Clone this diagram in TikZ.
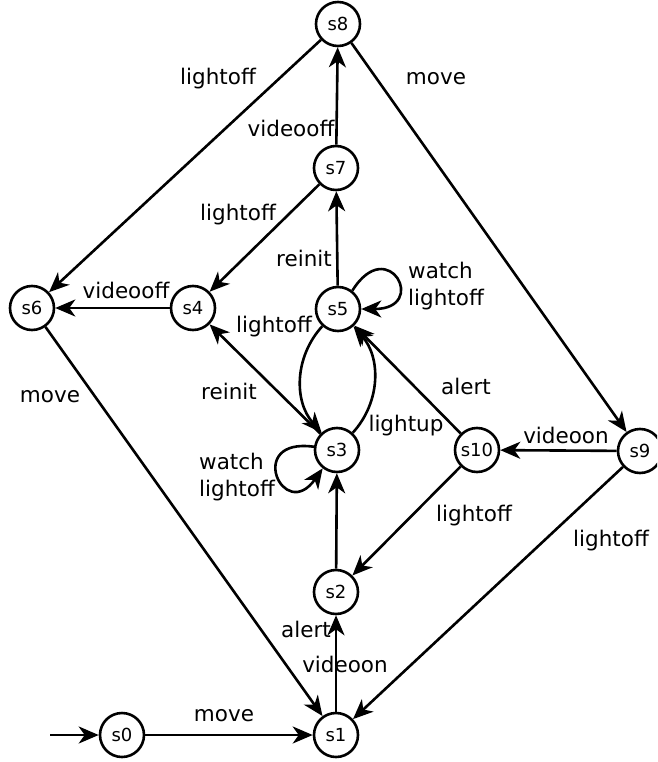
\documentclass[tikz,border=0pt]{standalone}
\usepackage{fontspec}
\setmainfont{DejaVu Sans}
\usetikzlibrary{arrows.meta}
\begin{document}
\begin{tikzpicture}[x=1pt,y=1pt,
  st/.style={circle,draw,line width=2.6pt,minimum size=44pt,inner sep=0pt,font=\fontsize{18}{20}\selectfont},
  lbl/.style={font=\fontsize{21.5}{27}\selectfont,inner sep=0pt},
  tr/.style={line width=2.6pt,-{Stealth[length=20pt,width=17pt,inset=6pt]}}]
\useasboundingbox (0,0) rectangle (657,-762);
\clip (0,0) rectangle (657,-762);
% states
\node[st] (s8) at (338,-24) {s8};
\node[st] (s7) at (336,-168) {s7};
\node[st] (s6) at (32,-308) {s6};
\node[st] (s4) at (193,-308) {s4};
\node[st] (s5) at (338,-309) {s5};
\node[st] (s3) at (337,-450) {s3};
\node[st] (s10) at (477,-450) {s10};
\node[st] (s9) at (640,-451) {s9};
\node[st] (s2) at (336,-592) {s2};
\node[st] (s1) at (336,-735) {s1};
\node[st] (s0) at (122,-735) {s0};
\coordinate (init) at (50,-735);
% transitions
\draw[tr] (init) -- (s0);
\draw[tr] (s0) -- (s1);
\draw[tr] (s1) -- (s2);
\draw[tr] (s2) -- (s3);
\draw[tr] (s5) to[bend right=42] (s3);
\draw[tr] (s3) to[bend right=42] (s5);
\draw[tr] (s3.172) .. controls +(172:70) and +(235:68) .. (s3.232);
\draw[tr] (s5.52) .. controls +(58:68) and +(0:68) .. (s5.east);
\draw[tr] (s5) -- (s7);
\draw[tr] (s7) -- (s8);
\draw[tr] (s7) -- (s4);
\draw[tr] (s8) -- (s6);
\draw[tr] (s8) -- (s9);
\draw[tr] (s4) -- (s6);
\draw[tr] (s3) -- (s4);
\draw[tr] (s6) -- (s1);
\draw[tr] (s10) -- (s5);
\draw[tr] (s9) -- (s10);
\draw[tr] (s10) -- (s2);
\draw[tr] (s9) -- (s1);
% labels
\node[lbl] (l1) at (218,-79) {lightoff};
\node[lbl] (l2) at (436,-79) {move};
\node[lbl] (l3) at (291,-128) {videooff};
\node[lbl] (l4) at (238,-215) {lightoff};
\node[lbl] (l5) at (304,-258) {reinit};
\node[lbl,align=left,anchor=west] (l6) at (408,-286) {watch\\lightoff};
\node[lbl] (l7) at (126,-290) {videooff};
\node[lbl] (l8) at (274,-327) {lightoff};
\node[lbl] (l9) at (50,-397) {move};
\node[lbl] (l10) at (229,-391) {reinit};
\node[lbl] (l11) at (466,-386) {alert};
\node[lbl] (l12) at (406,-426) {lightup};
\node[lbl] (l13) at (566,-435) {videoon};
\node[lbl,align=left,anchor=west] (l14) at (199,-477) {watch\\lightoff};
\node[lbl] (l15) at (474,-516) {lightoff};
\node[lbl] (l16) at (611,-541) {lightoff};
\node[lbl] (l17) at (306,-629) {alert};
\node[lbl] (l18) at (345,-664) {videoon};
\node[lbl] (l19) at (224,-716) {move};
\end{tikzpicture}
\end{document}
